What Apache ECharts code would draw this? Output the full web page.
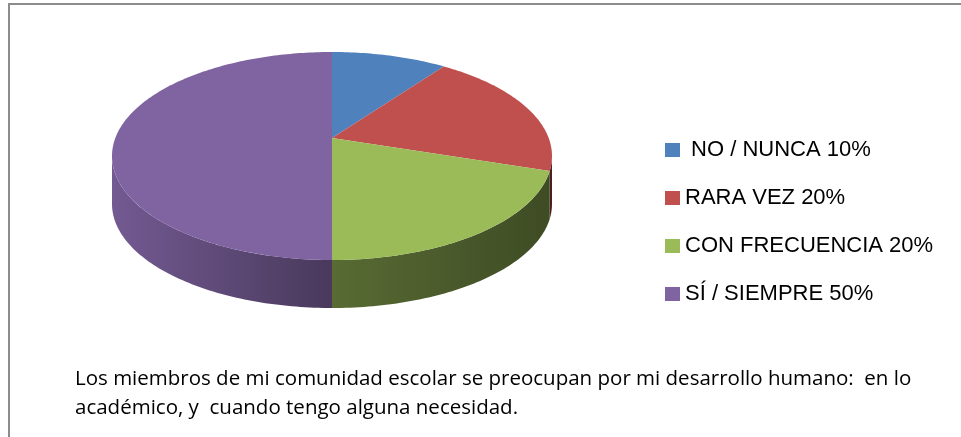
<!DOCTYPE html>
<html>
<head>
<meta charset="utf-8">
<script src="https://cdn.jsdelivr.net/npm/echarts@6/dist/echarts.min.js"></script>
<style>
  html, body { margin: 0; padding: 0; background: #fff; }
  #chart { width: 961px; height: 437px; }
</style>
</head>
<body>
<div id="chart"></div>
<script>
// datos del gráfico
var categories = [' NO / NUNCA', 'RARA VEZ', 'CON FRECUENCIA', 'SÍ / SIEMPRE'];
var values = [10, 20, 20, 50];
var colors = ['#4F81BD', '#C0504D', '#9BBB59', '#8064A2'];
var caption = 'Los miembros de mi comunidad escolar se preocupan por mi desarrollo humano:  en lo\nacadémico, y  cuando tengo alguna necesidad.';

// geometria del "pastel 3D"
var pie = { cx: 332, cy: 156, rx: 220, ry: 104, depth: 48, tilt: 0.173 };
var total = values.reduce(function (a, b) { return a + b; }, 0);

function shade(hex, f) {
  var n = parseInt(hex.slice(1), 16);
  var r = Math.round(((n >> 16) & 255) * f);
  var g = Math.round(((n >> 8) & 255) * f);
  var b = Math.round((n & 255) * f);
  return 'rgb(' + r + ',' + g + ',' + b + ')';
}

// angulo (grados, horario desde las 12) -> punto en pantalla, con perspectiva
function proj(deg) {
  var a = deg * Math.PI / 180;
  var x0 = Math.sin(a), y0 = -Math.cos(a), d = pie.tilt;
  var k = 1 - d * y0;
  var xp = x0 * Math.sqrt(1 - d * d) / k;
  var yp = (y0 - d) / k;
  return [pie.cx + pie.rx * xp, pie.cy + pie.ry * yp];
}

function arc(a0, a1) {
  var pts = [];
  var n = Math.max(2, Math.ceil(Math.abs(a1 - a0)));
  for (var i = 0; i <= n; i++) pts.push(proj(a0 + (a1 - a0) * i / n));
  return pts;
}

function makeRender(idx) {
  return function (params, api) {
    var before = 0;
    for (var i = 0; i < idx; i++) before += values[i];
    var start = before / total * 360;
    var end = (before + api.value(0)) / total * 360;
    var color = colors[idx];
    var apex = [pie.cx, pie.cy - pie.ry * pie.tilt];
    var children = [];

    // pared lateral visible (mitad frontal)
    var edge = Math.acos(-pie.tilt) * 180 / Math.PI;
    var s0 = Math.max(start, edge), s1 = Math.min(end, 360 - edge);
    if (s1 > s0) {
      var top = arc(s0, s1);
      var bottom = top.slice().reverse().map(function (p) { return [p[0], p[1] + pie.depth]; });
      children.push({
        type: 'polygon',
        shape: { points: top.concat(bottom) },
        style: {
          fill: {
            type: 'linear', global: true,
            x: pie.cx - pie.rx, y: 0, x2: pie.cx + pie.rx, y2: 0,
            colorStops: [
              { offset: 0, color: shade(color, 0.9) },
              { offset: 0.5, color: shade(color, 0.57) },
              { offset: 1, color: shade(color, 0.4) }
            ]
          }
        }
      });
    }

    // cara superior
    children.push({
      type: 'polygon',
      shape: { points: [apex].concat(arc(start, end)) },
      style: { fill: color }
    });

    return { type: 'group', children: children };
  };
}

var series = categories.map(function (name, i) {
  return {
    type: 'custom',
    name: name,
    coordinateSystem: 'none',
    itemStyle: { color: colors[i] },
    data: [[values[i]]],
    renderItem: makeRender(i),
    silent: true
  };
});

var chart = echarts.init(document.getElementById('chart'));
chart.setOption({
  animation: false,
  title: {
    text: caption,
    left: 75,
    top: 365,
    padding: 0,
    textStyle: { fontFamily: 'Open Sans', fontSize: 20.5, fontWeight: 'normal', color: '#000', lineHeight: 29 }
  },
  legend: {
    orient: 'vertical',
    left: 665,
    top: 138,
    padding: 0,
    icon: 'rect',
    itemWidth: 15,
    itemHeight: 14,
    itemGap: 24,
    data: categories,
    formatter: function (name) {
      return name + ' ' + values[categories.indexOf(name)] + '%';
    },
    textStyle: { fontFamily: 'Liberation Sans', fontSize: 22, color: '#000', lineHeight: 24 }
  },
  graphic: [{
    type: 'polyline',
    shape: { points: [[9, 437], [9, 4], [961, 4]] },
    style: { stroke: '#8c8c8c', lineWidth: 2, fill: null },
    silent: true
  }],
  series: series
});
</script>
</body>
</html>
